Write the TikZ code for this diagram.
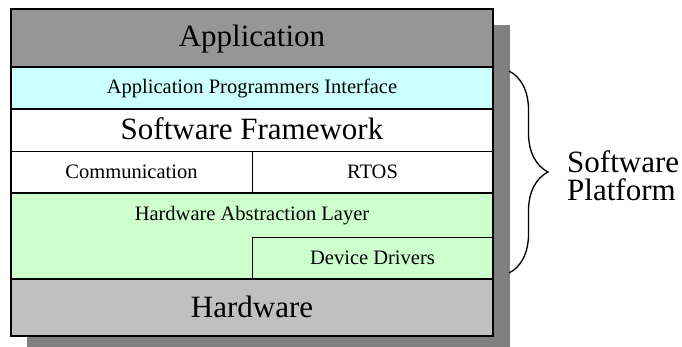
\documentclass[tikz,border=0pt]{standalone}
\usepackage{fontspec}
\setmainfont{Liberation Serif}
\usepackage{tikz}
\usetikzlibrary{decorations.pathreplacing}
\definecolor{appgray}{HTML}{969696}
\definecolor{hwgray}{HTML}{C0C0C0}
\definecolor{apicyan}{HTML}{CCFFFF}
\definecolor{halgreen}{HTML}{CCFFCC}
\definecolor{shadowgray}{HTML}{808080}
\tikzset{big text/.style={font=\fontsize{31}{28}\selectfont,anchor=base},
	small text/.style={font=\fontsize{20.5}{24}\selectfont,anchor=base},
	layer line/.style={line width=1.7pt},
	sub line/.style={line width=0.9pt},
	platform brace/.style={decorate,decoration={brace,amplitude=39pt},line width=1.3pt}}

\begin{document}
\begin{tikzpicture}[x=1pt,y=-1pt]
	\useasboundingbox (0,0) rectangle (682,347);
	
	% shadow
	\fill[shadowgray] (27,25) rectangle (510,347);
	
	% layers
	\fill[appgray] (11,9) rectangle (493,67);
	\fill[apicyan] (11,67) rectangle (493,109);
	\fill[white] (11,109) rectangle (493,193);
	\fill[halgreen] (11,193) rectangle (493,279);
	\fill[hwgray] (11,279) rectangle (493,336);
	
	\draw[sub line] (11,151) -- (493,151);
	\draw[sub line] (252,151) -- (252,193);
	\draw[sub line] (252,237) rectangle (493,279);
	
	\draw[layer line] (11,67) -- (493,67);
	\draw[layer line] (11,109) -- (493,109);
	\draw[layer line] (11,193) -- (493,193);
	\draw[layer line] (11,279) -- (493,279);
	\draw[line width=2.6pt] (11,9) rectangle (493,336);
	
	\node[big text] (App) at (252,47) {Application};
	\node[small text] (API) at (252,94) {Application Programmers Interface};
	\node[big text] (SF) at (252,140) {Software Framework};
	\node[small text] (Comm) at (131.5,179) {Communication};
	\node[small text] (RTOS) at (372.5,179) {RTOS};
	\node[small text] (HAL) at (252,221) {Hardware Abstraction Layer};
	\node[small text] (DD) at (372.5,264) {Device Drivers};
	\node[big text] (HW) at (252,317) {Hardware};
	
	% brace
	\coordinate (braceTop) at (509,71);
	\coordinate (braceBot) at (509,273);
	\draw[platform brace] (braceTop) -- (braceBot);
	\node[font=\fontsize{31}{28}\selectfont,align=left,anchor=west,inner sep=0pt] (Plat) at (567,176) {Software\\Platform};
\end{tikzpicture}
\end{document}
